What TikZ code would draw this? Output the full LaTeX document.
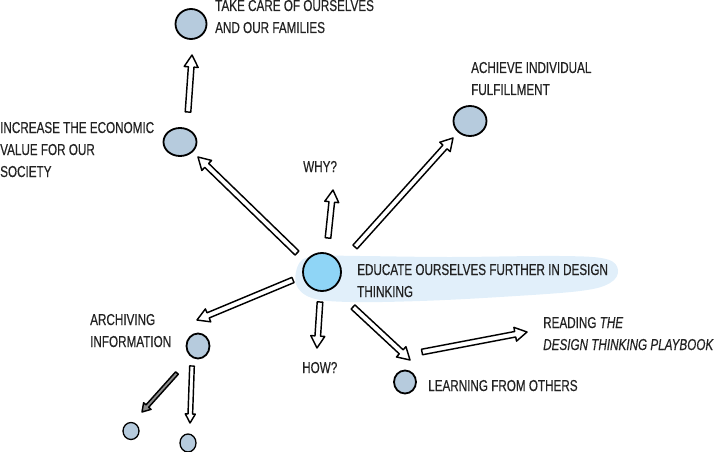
\documentclass[tikz,border=0pt]{standalone}
\usepackage{fontspec}
\setmainfont[FakeStretch=0.74,FakeBold=0.4]{Liberation Sans}
\usetikzlibrary{calc,shapes.geometric}
\definecolor{nodefill}{HTML}{B6CBDD}
\definecolor{mainfill}{HTML}{8FD5F6}
\definecolor{bandfill}{HTML}{E1EFFA}
\definecolor{ink}{HTML}{222222}
\begin{document}
\begin{tikzpicture}[x=1pt,y=-1pt,
  blob/.style={ellipse, draw=black, line width=1.8pt, fill=nodefill, inner sep=0pt},
  lbl/.style={anchor=base west, inner sep=0pt, text=ink, font=\fontsize{15.8}{22}\selectfont},
  arrW/.store in=\arrW, arrH/.store in=\arrH, arrL/.store in=\arrL,
  arrW=2.8pt, arrH=7pt, arrL=12pt,
  blk/.style={draw=black, fill=white, line width=1.45pt, line join=round,
    to path={let \p1=(\tikztostart), \p2=(\tikztotarget),
      \n1={atan2(\y2-\y1,\x2-\x1)}, \n2={veclen(\x2-\x1,\y2-\y1)} in
      ($(\p1)+({\n1+90}:\arrW)$)
      -- ($(\p1)+(\n1:{\n2-\arrL})+({\n1+90}:\arrW)$)
      -- ($(\p1)+(\n1:{\n2-\arrL})+({\n1+90}:\arrH)$)
      -- (\p2)
      -- ($(\p1)+(\n1:{\n2-\arrL})+({\n1-90}:\arrH)$)
      -- ($(\p1)+(\n1:{\n2-\arrL})+({\n1-90}:\arrW)$)
      -- ($(\p1)+({\n1-90}:\arrW)$) -- cycle}},
]
\useasboundingbox (0,0) rectangle (720,452);
% highlight band
\fill[bandfill] plot[smooth cycle, tension=0.6] coordinates {
  (300,262) (318,256) (360,256) (450,257) (560,256) (606,259) (618,270)
  (610,283) (580,291) (500,297) (420,301) (350,302) (312,298) (296,284)};
% circles
\node[blob, fill=mainfill, minimum width=38pt, minimum height=38pt] (C) at (322,272) {};
\node[blob, minimum width=33pt, minimum height=28pt] (inc) at (180,142) {};
\node[blob, minimum width=31pt, minimum height=30pt] (take) at (191,24) {};
\node[blob, minimum width=33pt, minimum height=30pt] (ach) at (470,121) {};
\node[blob, minimum width=23pt, minimum height=25pt] (arc) at (198,346) {};
\node[blob, minimum width=22pt, minimum height=23pt] (lrn) at (405,382) {};
\node[blob, line width=1.3pt, minimum width=16pt, minimum height=17pt] (s1) at (131,431) {};
\node[blob, line width=1.3pt, minimum width=16pt, minimum height=18pt] (s2) at (188,443) {};
% labels
\node[lbl] (takeL) at (215,11) {\begin{tabular}[t]{@{}l@{}}TAKE CARE OF OURSELVES\\AND OUR FAMILIES\end{tabular}};
\node[lbl] (incL) at (0,133) {\begin{tabular}[t]{@{}l@{}}INCREASE THE ECONOMIC\\VALUE FOR OUR\\SOCIETY\end{tabular}};
\node[lbl] (achL) at (471,73) {\begin{tabular}[t]{@{}l@{}}ACHIEVE INDIVIDUAL\\FULFILLMENT\end{tabular}};
\node[lbl] (why) at (303,172) {WHY?};
\node[lbl] (eduL) at (357,275) {\begin{tabular}[t]{@{}l@{}}EDUCATE OURSELVES FURTHER IN DESIGN\\THINKING\end{tabular}};
\node[lbl] (arcL) at (90,325) {\begin{tabular}[t]{@{}l@{}}ARCHIVING\\INFORMATION\end{tabular}};
\node[lbl] (how) at (302,373) {HOW?};
\node[lbl] (lrnL) at (428,391) {LEARNING FROM OTHERS};
\node[lbl] (read) at (543,328) {\begin{tabular}[t]{@{}l@{}}READING \textit{THE}\\\textit{DESIGN THINKING PLAYBOOK}\end{tabular}};
% connectors
\draw[blk] ($(C)+(-25,-19)$) to ($(inc)+(18,15)$);
\draw[blk] ($(C)+(6,-34)$) to ($(why.base west)+(30,18)$);
\draw[blk] ($(C)+(33,-25)$) to ($(ach)+(-17,17)$);
\draw[blk] ($(C)+(-29,8)$) to ($(arc)+(-1,-26)$);
\draw[blk] ($(C)+(-2,30)$) to ($(how.base west)+(15,-25)$);
\draw[blk] ($(C)+(31,35)$) to ($(lrn)+(5,-22)$);
\draw[blk] ($(lrn)+(17,-30)$) to ($(read.base west)+(-16,4)$);
\draw[blk] ($(inc)+(8,-30)$) to ($(take)+(1,31)$);
\draw[blk, fill=black!45, arrW=1.8pt, arrH=5pt, arrL=8pt] ($(arc)+(-21,27)$) to ($(s1)+(11,-19)$);
\draw[blk, arrW=2.3pt, arrH=5pt, arrL=9pt] ($(arc)+(-6,20)$) to ($(s2)+(2,-20)$);
\end{tikzpicture}
\end{document}
